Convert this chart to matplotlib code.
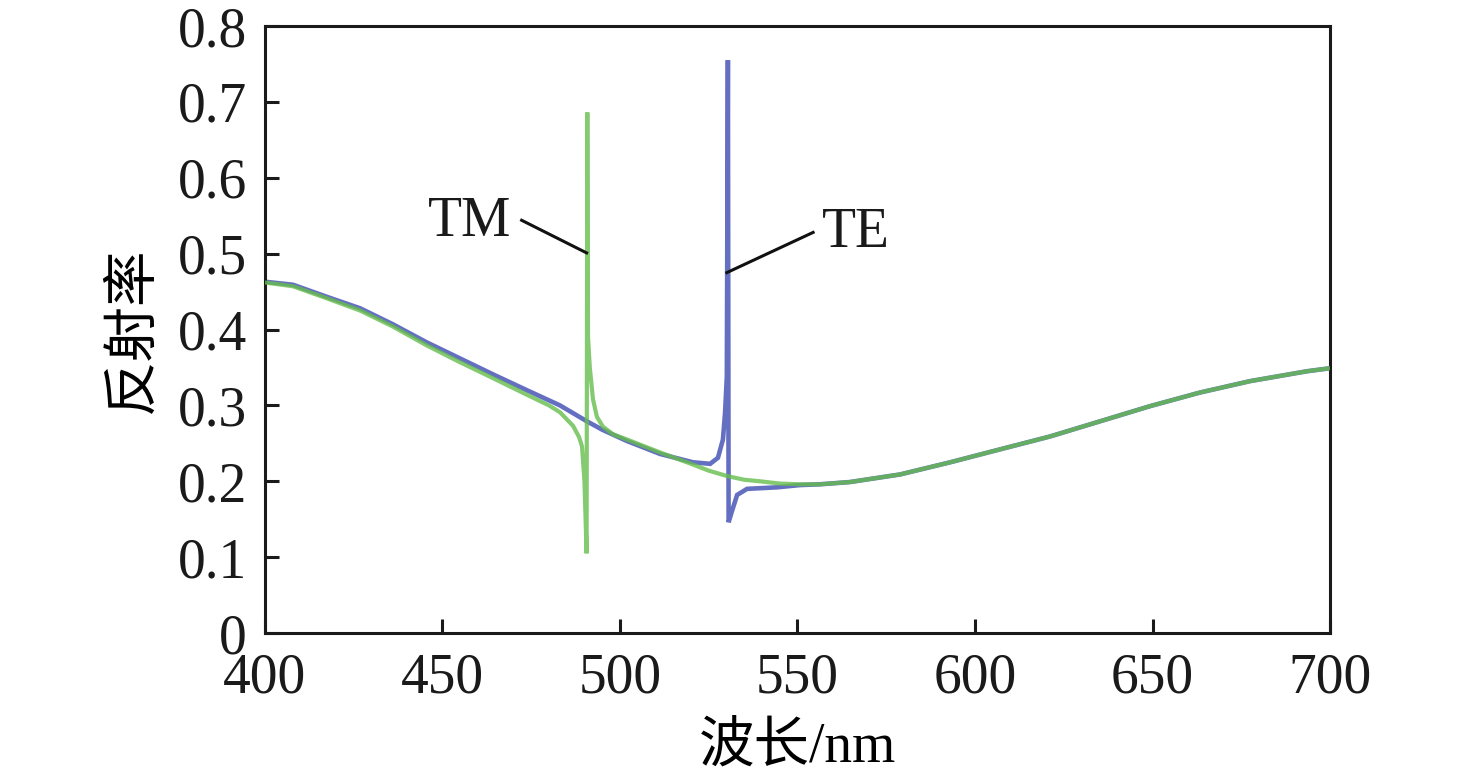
import matplotlib
matplotlib.use("Agg")
import matplotlib.pyplot as plt

# ---- data ----
te_wl = [400, 407.9, 417.5, 426.8, 436, 445.6, 454.9, 464.2, 473.8, 483.1, 490.7, 495,
         502, 511.3, 520.6, 525.4, 527.6, 529.0, 529.6, 530.1, 530.4, 530.6, 531.5, 533,
         535.8, 544.2, 550.7, 556.3, 564.8, 578.9, 593, 607, 621.1, 635.2, 649.3, 663.4,
         677.5, 693.5, 700]
te_r = [0.463, 0.459, 0.443, 0.428, 0.407, 0.383, 0.362, 0.341, 0.320, 0.300, 0.279, 0.268,
        0.253, 0.236, 0.225, 0.223, 0.231, 0.255, 0.290, 0.338, 0.755, 0.146, 0.160, 0.182,
        0.190, 0.192, 0.195, 0.196, 0.199, 0.209, 0.225, 0.242, 0.259, 0.279, 0.299, 0.317,
        0.332, 0.345, 0.349]

tm_wl = [400, 407.9, 417.5, 426.8, 436, 445.6, 454.9, 464.2, 473.8, 480, 483.1, 486.8,
         488.5, 489.3, 490.0, 490.6, 490.8, 491.0, 491.5, 492.4, 493.5, 495.2, 498, 502,
         511.3, 520.6, 525, 530.1, 535, 539.4, 545, 550.7, 556.3, 564.8, 578.9, 593, 607,
         621.1, 635.2, 649.3, 663.4, 677.5, 693.5, 700]
tm_r = [0.462, 0.457, 0.441, 0.425, 0.404, 0.379, 0.357, 0.336, 0.314, 0.300, 0.291, 0.273,
        0.258, 0.246, 0.200, 0.105, 0.686, 0.390, 0.350, 0.308, 0.285, 0.272, 0.262, 0.255,
        0.238, 0.222, 0.214, 0.207, 0.202, 0.200, 0.197, 0.196, 0.196, 0.199, 0.209, 0.225,
        0.242, 0.259, 0.279, 0.299, 0.317, 0.332, 0.345, 0.349]

x_ticks = [400, 450, 500, 550, 600, 650, 700]
y_ticks = [0, 0.1, 0.2, 0.3, 0.4, 0.5, 0.6, 0.7, 0.8]
y_tick_labels = ["0", "0.1", "0.2", "0.3", "0.4", "0.5", "0.6", "0.7", "0.8"]

serif = ["Liberation Serif", "Noto Sans CJK SC"]
plt.rcParams["font.family"] = serif

FS = 40

fig = plt.figure(figsize=(14.76, 7.77), dpi=100)
ax = fig.add_axes([0.1795, 0.1853, 0.9011 - 0.1795, 0.9665 - 0.1853])

ax.plot(te_wl, te_r, color="#4a56b8", lw=3.3, alpha=0.85, solid_joinstyle="miter", zorder=2)
ax.plot(tm_wl, tm_r, color="#66bd4c", lw=3.0, alpha=0.8, solid_joinstyle="miter", zorder=3)

ax.set_xlim(400, 700)
ax.set_ylim(0, 0.8)
ax.set_xticks(x_ticks)
ax.set_yticks(y_ticks)
ax.set_yticklabels(y_tick_labels)

for s in ax.spines.values():
    s.set_linewidth(2.2)
    s.set_color("#1a1a1a")
ax.tick_params(direction="in", length=10, width=2.2, labelsize=FS, colors="#1a1a1a",
               top=False, right=False)
ax.tick_params(axis="x", pad=14)
ax.tick_params(axis="y", pad=13)

ax.set_xlabel("波长/nm", fontsize=FS, family=serif, labelpad=12)
ax.set_ylabel("反射率", fontsize=FS, family=["Noto Sans CJK SC"], labelpad=12)

# annotations
ax.plot([472.3, 490.6], [0.544, 0.501], color="#111111", lw=2.2, zorder=4)
ax.plot([554.4, 530.1], [0.528, 0.475], color="#111111", lw=2.2, zorder=4)
ax.text(469.5, 0.542, "TM", fontsize=FS, ha="right", va="center", color="#1a1a1a")
ax.text(557.0, 0.527, "TE", fontsize=FS, ha="left", va="center", color="#1a1a1a")

fig.savefig("out.png", dpi=100)
